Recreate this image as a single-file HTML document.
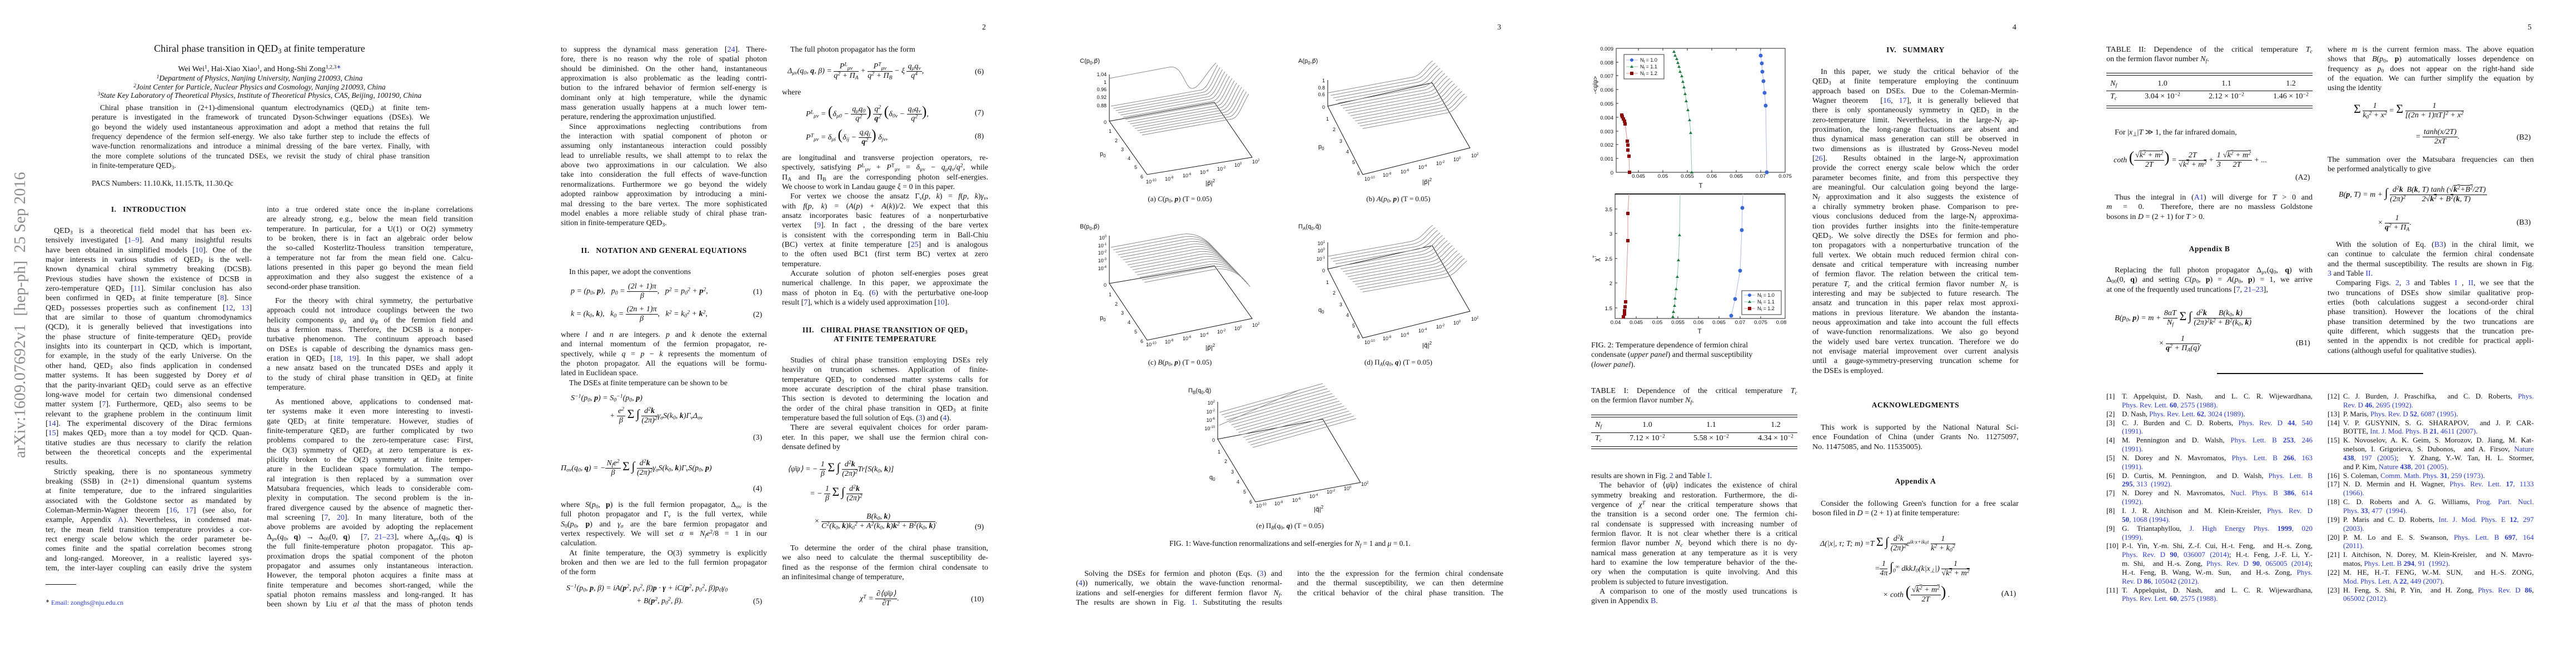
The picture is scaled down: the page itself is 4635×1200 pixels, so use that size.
<!DOCTYPE html>
<html><head><meta charset="utf-8">
<style>
html,body{margin:0;padding:0;background:#fff}
body{width:4635px;height:1200px;position:relative;overflow:hidden;font-family:"Liberation Serif",serif;color:#111}
.pg{position:absolute;top:0;width:927px;height:1200px}
.c{position:absolute;width:371px;font-size:14px}
.c>div{height:17.35px;line-height:17.35px;overflow:hidden;text-align:justify;text-align-last:justify;white-space:normal}
.c>div.e{text-align-last:left}
.i{text-indent:15px}
sub,sup{font-size:70%;line-height:0}
sub{vertical-align:-0.25em}
sup{vertical-align:0.45em}
.a{color:#2a3bc7}
.ab{position:absolute}
.pn{position:absolute;top:42px;left:840px;font-size:14px}
.h{position:absolute;font-size:13.5px;font-weight:bold;text-align:center;letter-spacing:0.5px}
.eq{position:absolute;font-size:14px;white-space:nowrap;font-style:italic}
.eq .n{font-style:normal}
.en{position:absolute;font-size:14px}
.fr{display:inline-block;vertical-align:middle;text-align:center;line-height:16px}
.fr>span{display:block}
.fr>span:first-child{border-bottom:1px solid #111;padding:0 2px}
.cap{position:absolute;font-size:14px;white-space:nowrap}
svg{position:absolute;overflow:visible}
svg text{font-family:"Liberation Sans",sans-serif;fill:#111}
.ln{stroke:#8a8a8a;fill:none;stroke-width:1}
.ax{stroke:#111;fill:none;stroke-width:1}
.rf{position:absolute;width:371px;font-size:13px}
.rf>div{height:15.85px;line-height:15.85px;overflow:hidden;text-align:justify;text-align-last:justify;padding-left:28px;position:relative}
.rf>div.e{text-align-last:left}
.rf b{position:absolute;left:0;font-weight:normal;width:25px;text-align:right}
</style></head><body>

<!-- ================= PAGE 1 ================= -->
<div class="pg" style="left:0">
<div class="ab" style="left:16px;top:276px;height:548px;writing-mode:vertical-rl;transform:rotate(180deg);font-size:29px;color:#8c8c8c;white-space:nowrap;line-height:40px">arXiv:1609.07692v1&nbsp; [hep-ph]&nbsp; 25 Sep 2016</div>
<div class="ab" style="left:0;width:934px;top:77px;text-align:center;font-size:18px">Chiral phase transition in QED<sub>3</sub> at finite temperature</div>
<div class="ab" style="left:0;width:934px;top:117px;text-align:center;font-size:14px">Wei Wei<sup>1</sup>, Hai-Xiao Xiao<sup>1</sup>, and Hong-Shi Zong<sup>1,2,3<span class="a">∗</span></sup></div>
<div class="ab" style="left:0;width:934px;top:133px;text-align:center;font-size:13.5px;font-style:italic;line-height:15.6px"><sup>1</sup>Department of Physics, Nanjing University, Nanjing 210093, China<br><sup>2</sup>Joint Center for Particle, Nuclear Physics and Cosmology, Nanjing 210093, China<br><sup>3</sup>State Key Laboratory of Theoretical Physics, Institute of Theoretical Physics, CAS, Beijing, 100190, China</div>
<div class="c" style="left:165px;top:185px;width:608px;font-size:13.6px">
<div class="i">Chiral phase transition in (2+1)-dimensional quantum electrodynamics (QED<sub>3</sub>) at finite tem-</div>
<div>perature is investigated in the framework of truncated Dyson-Schwinger equations (DSEs). We</div>
<div>go beyond the widely used instantaneous approximation and adopt a method that retains the full</div>
<div>frequency dependence of the fermion self-energy. We also take further step to include the effects of</div>
<div>wave-function renormalizations and introduce a minimal dressing of the bare vertex. Finally, with</div>
<div>the more complete solutions of the truncated DSEs, we revisit the study of chiral phase transition</div>
<div class="e">in finite-temperature QED<sub>3</sub>.</div>
</div>
<div class="ab" style="left:165px;top:322px;font-size:13.6px">PACS Numbers: 11.10.Kk, 11.15.Tk, 11.30.Qc</div>
<div class="h" style="left:82px;width:371px;top:369px">I.&nbsp;&nbsp; INTRODUCTION</div>
<div class="c" style="left:82px;top:407px">
<div class="i">QED<sub>3</sub> is a theoretical field model that has been ex-</div>
<div>tensively investigated [<span class="a">1–9</span>]. And many insightful results</div>
<div>have been obtained in simplified models [<span class="a">10</span>]. One of the</div>
<div>major interests in various studies of QED<sub>3</sub> is the well-</div>
<div>known dynamical chiral symmetry breaking (DCSB).</div>
<div>Previous studies have shown the existence of DCSB in</div>
<div>zero-temperature QED<sub>3</sub> [<span class="a">11</span>]. Similar conclusion has also</div>
<div>been confirmed in QED<sub>3</sub> at finite temperature [<span class="a">8</span>]. Since</div>
<div>QED<sub>3</sub> possesses properties such as confinement [<span class="a">12</span>, <span class="a">13</span>]</div>
<div>that are similar to those of quantum chromodynamics</div>
<div>(QCD), it is generally believed that investigations into</div>
<div>the phase structure of finite-temperature QED<sub>3</sub> provide</div>
<div>insights into its counterpart in QCD, which is important,</div>
<div>for example, in the study of the early Universe. On the</div>
<div>other hand, QED<sub>3</sub> also finds application in condensed</div>
<div>matter systems. It has been suggested by Dorey <i>et al</i></div>
<div>that the parity-invariant QED<sub>3</sub> could serve as an effective</div>
<div>long-wave model for certain two dimensional condensed</div>
<div>matter system [<span class="a">7</span>]. Furthermore, QED<sub>3</sub> also seems to be</div>
<div>relevant to the graphene problem in the continuum limit</div>
<div>[<span class="a">14</span>]. The experimental discovery of the Dirac fermions</div>
<div>[<span class="a">15</span>] makes QED<sub>3</sub> more than a toy model for QCD. Quan-</div>
<div>titative studies are thus necessary to clarify the relation</div>
<div>between the theoretical concepts and the experimental</div>
<div class="e">results.</div>
<div class="i">Strictly speaking, there is no spontaneous symmetry</div>
<div>breaking (SSB) in (2+1) dimensional quantum systems</div>
<div>at finite temperature, due to the infrared singularities</div>
<div>associated with the Goldstone sector as mandated by</div>
<div>Coleman-Mermin-Wagner theorem [<span class="a">16</span>, <span class="a">17</span>] (see also, for</div>
<div>example, Appendix <span class="a">A</span>). Nevertheless, in condensed mat-</div>
<div>ter, the mean field transition temperature provides a cor-</div>
<div>rect energy scale below which the order parameter be-</div>
<div>comes finite and the spatial correlation becomes strong</div>
<div>and long-ranged. Moreover, in a realistic layered sys-</div>
<div>tem, the inter-layer coupling can easily drive the system</div>
</div>
<div class="ab" style="left:82px;top:1051px;width:55px;border-top:1px solid #111"></div>
<div class="ab" style="left:82px;top:1077px;font-size:12px"><sup>∗</sup> <span class="a">Email: zonghs@nju.edu.cn</span></div>
<div class="c" style="left:480px;top:369px">
<div>into a true ordered state once the in-plane correlations</div>
<div>are already strong, e.g., below the mean field transition</div>
<div>temperature. In particular, for a U(1) or O(2) symmetry</div>
<div>to be broken, there is in fact an algebraic order below</div>
<div>the so-called Kosterlitz-Thouless transition temperature,</div>
<div>a temperature not far from the mean field one. Calcu-</div>
<div>lations presented in this paper go beyond the mean field</div>
<div>approximation and they also suggest the existence of a</div>
<div class="e">second-order phase transition.</div>
</div>
<div class="c" style="left:480px;top:533px">
<div class="i">For the theory with chiral symmetry, the perturbative</div>
<div>approach could not introduce couplings between the two</div>
<div>helicity components <i>ψ<sub>L</sub></i> and <i>ψ<sub>R</sub></i> of the fermion field and</div>
<div>thus a fermion mass. Therefore, the DCSB is a nonper-</div>
<div>turbative phenomenon. The continuum approach based</div>
<div>on DSEs is capable of describing the dynamics mass gen-</div>
<div>eration in QED<sub>3</sub> [<span class="a">18</span>, <span class="a">19</span>]. In this paper, we shall adopt</div>
<div>a new ansatz based on the truncated DSEs and apply it</div>
<div>to the study of chiral phase transition in QED<sub>3</sub> at finite</div>
<div class="e">temperature.</div>
</div>
<div class="c" style="left:480px;top:715px">
<div class="i">As mentioned above, applications to condensed mat-</div>
<div>ter systems make it even more interesting to investi-</div>
<div>gate QED<sub>3</sub> at finite temperature. However, studies of</div>
<div>finite-temperature QED<sub>3</sub> are further complicated by two</div>
<div>problems compared to the zero-temperature case: First,</div>
<div>the O(3) symmetry of QED<sub>3</sub> at zero temperature is ex-</div>
<div>plicitly broken to the O(2) symmetry at finite temper-</div>
<div>ature in the Euclidean space formulation. The tempo-</div>
<div>ral integration is then replaced by a summation over</div>
<div>Matsubara frequencies, which leads to considerable com-</div>
<div>plexity in computation. The second problem is the in-</div>
<div>frared divergence caused by the absence of magnetic ther-</div>
<div>mal screening [<span class="a">7</span>, <span class="a">20</span>]. In many literature, both of the</div>
<div>above problems are avoided by adopting the replacement</div>
<div>Δ<sub>μν</sub>(<i>q</i><sub>0</sub>, <b>q</b>) → Δ<sub>00</sub>(0, <b>q</b>) &nbsp;[<span class="a">7</span>, <span class="a">21–23</span>], where Δ<sub>μν</sub>(<i>q</i><sub>0</sub>, <b>q</b>) is</div>
<div>the full finite-temperature photon propagator. This ap-</div>
<div>proximation drops the spatial component of the photon</div>
<div>propagator and assumes only instantaneous interaction.</div>
<div>However, the temporal photon acquires a finite mass at</div>
<div>finite temperature and becomes short-ranged, while the</div>
<div>spatial photon remains massless and long-ranged. It has</div>
<div>been shown by Liu <i>et al</i> that the mass of photon tends</div>
</div>
</div>

<!-- ================= PAGE 2 ================= -->
<div class="pg" style="left:927px">
<div class="pn">2</div>
<div class="c" style="left:82px;top:81px">
<div>to suppress the dynamical mass generation [<span class="a">24</span>]. There-</div>
<div>fore, there is no reason why the role of spatial photon</div>
<div>should be diminished. On the other hand, instantaneous</div>
<div>approximation is also problematic as the leading contri-</div>
<div>bution to the infrared behavior of fermion self-energy is</div>
<div>dominant only at high temperature, while the dynamic</div>
<div>mass generation usually happens at a much lower tem-</div>
<div class="e">perature, rendering the approximation unjustified.</div>
<div class="i">Since approximations neglecting contributions from</div>
<div>the interaction with spatial component of photon or</div>
<div>assuming only instantaneous interaction could possibly</div>
<div>lead to unreliable results, we shall attempt to to relax the</div>
<div>above two approximations in our calculation. We also</div>
<div>take into consideration the full effects of wave-function</div>
<div>renormalizations. Furthermore we go beyond the widely</div>
<div>adopted rainbow approximation by introducing a mini-</div>
<div>mal dressing to the bare vertex. The more sophisticated</div>
<div>model enables a more reliable study of chiral phase tran-</div>
<div class="e">sition in finite-temperature QED<sub>3</sub>.</div>
</div>
<div class="h" style="left:82px;width:371px;top:443px">II.&nbsp;&nbsp; NOTATION AND GENERAL EQUATIONS</div>
<div class="c" style="left:82px;top:481px"><div class="i e">In this paper, we adopt the conventions</div></div>
<div class="eq" style="left:100px;top:508px"><i>p</i> = (<i>p</i><sub>0</sub>, <b>p</b>), &nbsp;&nbsp;<i>p</i><sub>0</sub> = <span class="fr"><span>(2<i>l</i> + 1)<i>π</i></span><span><i>β</i></span></span>, &nbsp;&nbsp;<i>p</i><sup>2</sup> = <i>p</i><sub>0</sub><sup>2</sup> + <b>p</b><sup>2</sup>,</div>
<div class="en" style="left:428px;top:518px">(1)</div>
<div class="eq" style="left:100px;top:549px"><i>k</i> = (<i>k</i><sub>0</sub>, <b>k</b>), &nbsp;&nbsp;<i>k</i><sub>0</sub> = <span class="fr"><span>(2<i>n</i> + 1)<i>π</i></span><span><i>β</i></span></span>, &nbsp;&nbsp;<i>k</i><sup>2</sup> = <i>k</i><sub>0</sub><sup>2</sup> + <b>k</b><sup>2</sup>,</div>
<div class="en" style="left:428px;top:559px">(2)</div>
<div class="c" style="left:82px;top:594px">
<div>where <i>l</i> and <i>n</i> are integers. <i>p</i> and <i>k</i> denote the external</div>
<div>and internal momentum of the fermion propagator, re-</div>
<div>spectively, while <i>q</i> = <i>p</i> − <i>k</i> represents the momentum of</div>
<div>the photon propagator. All the equations will be formu-</div>
<div class="e">lated in Euclidean space.</div>
<div class="i e">The DSEs at finite temperature can be shown to be</div>
</div>
<div class="eq" style="left:100px;top:709px"><i>S</i><sup>−1</sup>(<i>p</i><sub>0</sub>, <b>p</b>) = <i>S</i><sub>0</sub><sup>−1</sup>(<i>p</i><sub>0</sub>, <b>p</b>)</div>
<div class="eq" style="left:170px;top:732px">+ <span class="fr"><span><i>e</i><sup>2</sup></span><span><i>β</i></span></span> <span style="font-size:22px;font-style:normal">Σ</span> <span style="font-size:22px">∫</span> <span class="fr"><span><i>d</i><sup>2</sup><b>k</b></span><span>(2<i>π</i>)<sup>2</sup></span></span><i>γ<sub>σ</sub>S</i>(<i>k</i><sub>0</sub>, <b>k</b>)Γ<sub>ν</sub>Δ<sub>σν</sub></div>
<div class="en" style="left:428px;top:780px">(3)</div>
<div class="eq" style="left:82px;top:826px">Π<sub>σν</sub>(<i>q</i><sub>0</sub>, <b>q</b>) = −<span class="fr"><span><i>N<sub>f</sub>e</i><sup>2</sup></span><span><i>β</i></span></span> <span style="font-size:22px;font-style:normal">Σ</span> <span style="font-size:22px">∫</span> <span class="fr"><span><i>d</i><sup>2</sup><b>k</b></span><span>(2<i>π</i>)<sup>2</sup></span></span><i>γ<sub>σ</sub>S</i>(<i>k</i><sub>0</sub>, <b>k</b>)Γ<sub>ν</sub><i>S</i>(<i>p</i><sub>0</sub>, <b>p</b>)</div>
<div class="en" style="left:428px;top:872px">(4)</div>
<div class="c" style="left:82px;top:900px">
<div>where <i>S</i>(<i>p</i><sub>0</sub>, <b>p</b>) is the full fermion propagator, Δ<sub>σν</sub> is the</div>
<div>full photon propagator and Γ<sub>ν</sub> is the full vertex, while</div>
<div><i>S</i><sub>0</sub>(<i>p</i><sub>0</sub>, <b>p</b>) and <i>γ<sub>σ</sub></i> are the bare fermion propagator and</div>
<div>vertex respectively. We will set <i>α</i> ≡ <i>N<sub>f</sub>e</i><sup>2</sup>/8 = 1 in our</div>
<div class="e">calculation.</div>
<div class="i">At finite temperature, the O(3) symmetry is explicitly</div>
<div>broken and then we are led to the full fermion propagator</div>
<div class="e">of the form</div>
</div>
<div class="eq" style="left:92px;top:1051px"><i>S</i><sup>−1</sup>(<i>p</i><sub>0</sub>, <b>p</b>, <i>β</i>) = <i>iA</i>(<b>p</b><sup>2</sup>, <i>p</i><sub>0</sub><sup>2</sup>, <i>β</i>)<b>p</b> · <b><i>γ</i></b> + <i>iC</i>(<b>p</b><sup>2</sup>, <i>p</i><sub>0</sub><sup>2</sup>, <i>β</i>)<i>p</i><sub>0</sub><i>γ</i><sub>0</sub></div>
<div class="eq" style="left:218px;top:1074px">+ <i>B</i>(<b>p</b><sup>2</sup>, <i>p</i><sub>0</sub><sup>2</sup>, <i>β</i>).</div>
<div class="en" style="left:428px;top:1075px">(5)</div>

<div class="c" style="left:480px;top:81px"><div class="i e">The full photon propagator has the form</div></div>
<div class="eq" style="left:490px;top:112px">Δ<sub>μν</sub>(<i>q</i><sub>0</sub>, <b>q</b>, <i>β</i>) = <span class="fr"><span><i>P</i><sup>L</sup><sub>μν</sub></span><span><i>q</i><sup>2</sup> + Π<sub>A</sub></span></span> + <span class="fr"><span><i>P</i><sup>T</sup><sub>μν</sub></span><span><i>q</i><sup>2</sup> + Π<sub>B</sub></span></span> − <i>ξ</i> <span class="fr"><span><i>q<sub>μ</sub>q<sub>ν</sub></i></span><span><i>q</i><sup>4</sup></span></span>,</div>
<div class="en" style="left:827px;top:122px">(6)</div>
<div class="c" style="left:480px;top:158px"><div class="e">where</div></div>
<div class="eq" style="left:523px;top:186px"><i>P</i><sup>L</sup><sub>μν</sub> = <span style="font-size:26px;font-style:normal">(</span><i>δ</i><sub>μ0</sub> − <span class="fr"><span><i>q<sub>μ</sub>q</i><sub>0</sub></span><span><i>q</i><sup>2</sup></span></span><span style="font-size:26px;font-style:normal">)</span> <span class="fr"><span><i>q</i><sup>2</sup></span><span><b>q</b><sup>2</sup></span></span> <span style="font-size:26px;font-style:normal">(</span><i>δ</i><sub>0ν</sub> − <span class="fr"><span><i>q</i><sub>0</sub><i>q<sub>ν</sub></i></span><span><i>q</i><sup>2</sup></span></span><span style="font-size:26px;font-style:normal">)</span>,</div>
<div class="en" style="left:827px;top:196px">(7)</div>
<div class="eq" style="left:523px;top:228px"><i>P</i><sup>T</sup><sub>μν</sub> = <i>δ</i><sub>μi</sub> <span style="font-size:26px;font-style:normal">(</span><i>δ<sub>ij</sub></i> − <span class="fr"><span><i>q<sub>i</sub>q<sub>j</sub></i></span><span><b>q</b><sup>2</sup></span></span><span style="font-size:26px;font-style:normal">)</span> <i>δ</i><sub>jν</sub>,</div>
<div class="en" style="left:827px;top:238px">(8)</div>
<div class="c" style="left:480px;top:276px">
<div>are longitudinal and transverse projection operators, re-</div>
<div>spectively, satisfying <i>P</i><sup>L</sup><sub>μν</sub> + <i>P</i><sup>T</sup><sub>μν</sub> = <i>δ</i><sub>μν</sub> − <i>q<sub>μ</sub>q<sub>ν</sub></i>/<i>q</i><sup>2</sup>, while</div>
<div>Π<sub>A</sub> and Π<sub>B</sub> are the corresponding photon self-energies.</div>
<div class="e">We choose to work in Landau gauge <i>ξ</i> = 0 in this paper.</div>
<div class="i">For vertex we choose the ansatz Γ<sub>ν</sub>(<i>p</i>, <i>k</i>) = <i>f</i>(<i>p</i>, <i>k</i>)<i>γ<sub>ν</sub></i>,</div>
<div>with <i>f</i>(<i>p</i>, <i>k</i>) = (<i>A</i>(<i>p</i>) + <i>A</i>(<i>k</i>))/2. We expect that this</div>
<div>ansatz incorporates basic features of a nonperturbative</div>
<div>vertex &nbsp;[<span class="a">9</span>]. In fact , the dressing of the bare vertex</div>
<div>is consistent with the corresponding term in Ball-Chiu</div>
<div>(BC) vertex at finite temperature [<span class="a">25</span>] and is analogous</div>
<div>to the often used BC1 (first term BC) vertex at zero</div>
<div class="e">temperature.</div>
<div class="i">Accurate solution of photon self-energies poses great</div>
<div>numerical challenge. In this paper, we approximate the</div>
<div>mass of photon in Eq. (<span class="a">6</span>) with the perturbative one-loop</div>
<div class="e">result [<span class="a">7</span>], which is a widely used approximation [<span class="a">10</span>].</div>
</div>
<div class="h" style="left:480px;width:371px;top:586px;line-height:16px">III.&nbsp;&nbsp; CHIRAL PHASE TRANSITION OF QED<sub>3</sub><br>AT FINITE TEMPERATURE</div>
<div class="c" style="left:480px;top:640px">
<div class="i">Studies of chiral phase transition employing DSEs rely</div>
<div>heavily on truncation schemes. Application of finite-</div>
<div>temperature QED<sub>3</sub> to condensed matter systems calls for</div>
<div>more accurate description of the chiral phase transition.</div>
<div>This section is devoted to determining the location and</div>
<div>the order of the chiral phase transition in QED<sub>3</sub> at finite</div>
<div class="e">temperature based the full solution of Eqs. (<span class="a">3</span>) and (<span class="a">4</span>).</div>
<div class="i">There are several equivalent choices for order param-</div>
<div>eter. In this paper, we shall use the fermion chiral con-</div>
<div class="e">densate defined by</div>
</div>
<div class="eq" style="left:490px;top:828px">⟨<i>ψ̄ψ</i>⟩ = − <span class="fr"><span>1</span><span><i>β</i></span></span> <span style="font-size:22px;font-style:normal">Σ</span> <span style="font-size:22px">∫</span> <span class="fr"><span><i>d</i><sup>2</sup><b>k</b></span><span>(2<i>π</i>)<sup>2</sup></span></span>Tr[<i>S</i>(<i>k</i><sub>0</sub>, <b>k</b>)]</div>
<div class="eq" style="left:530px;top:872px">= − <span class="fr"><span>1</span><span><i>β</i></span></span> <span style="font-size:22px;font-style:normal">Σ</span> <span style="font-size:22px">∫</span> <span class="fr"><span><i>d</i><sup>2</sup><b>k</b></span><span>(2<i>π</i>)<sup>2</sup></span></span></div>
<div class="eq" style="left:538px;top:922px">× <span class="fr"><span><i>B</i>(<i>k</i><sub>0</sub>, <b>k</b>)</span><span><i>C</i><sup>2</sup>(<i>k</i><sub>0</sub>, <b>k</b>)<i>k</i><sub>0</sub><sup>2</sup> + <i>A</i><sup>2</sup>(<i>k</i><sub>0</sub>, <b>k</b>)<b>k</b><sup>2</sup> + <i>B</i><sup>2</sup>(<i>k</i><sub>0</sub>, <b>k</b>)</span></span>.</div>
<div class="en" style="left:827px;top:941px">(9)</div>
<div class="c" style="left:480px;top:978px">
<div class="i">To determine the order of the chiral phase transition,</div>
<div>we also need to calculate the thermal susceptibility de-</div>
<div>fined as the response of the fermion chiral condensate to</div>
<div class="e">an infinitesimal change of temperature,</div>
</div>
<div class="eq" style="left:620px;top:1061px"><i>χ</i><sup>T</sup> = <span class="fr"><span>∂⟨<i>ψ̄ψ</i>⟩</span><span>∂<i>T</i></span></span>.</div>
<div class="en" style="left:820px;top:1071px">(10)</div>
</div>

<!-- ================= PAGE 3 ================= -->
<div class="pg" style="left:1854px">
<div class="pn">3</div>

<!-- (a) C -->
<svg style="left:89px;top:107px" width="340" height="235" font-size="9">
<text x="0" y="6" font-size="11">C(p<tspan font-size="8" dy="3">0</tspan><tspan dy="-3">,p⃗)</tspan></text>
<text x="48" y="30" text-anchor="end">1.04</text><text x="48" y="44" text-anchor="end">1</text><text x="48" y="57" text-anchor="end">0.96</text><text x="48" y="71" text-anchor="end">0.92</text><text x="48" y="86" text-anchor="end">0.88</text><text x="48" y="116" text-anchor="end">0</text>
<line class="ax" x1="53" y1="27" x2="53" y2="111"/>
<polygon class="ax" points="53,111 242,77 310,176 121,207"/>
<path id="ca" class="ln" d="M56,84 L218,55 C230,52 236,30 248,10"/>
<use href="#ca" transform="translate(4.3,4)"/><use href="#ca" transform="translate(8.6,8)"/><use href="#ca" transform="translate(12.9,12)"/><use href="#ca" transform="translate(17.2,16)"/><use href="#ca" transform="translate(21.5,20)"/><use href="#ca" transform="translate(25.8,24)"/><use href="#ca" transform="translate(30.1,28)"/><use href="#ca" transform="translate(34.4,32)"/><use href="#ca" transform="translate(38.7,36)"/><use href="#ca" transform="translate(43,40)"/><use href="#ca" transform="translate(47.3,44)"/><use href="#ca" transform="translate(51.6,48)"/><use href="#ca" transform="translate(55.9,52)"/>
<path class="ln" d="M53,34 L160,14 C185,8 188,50 201,52 C214,54 228,22 245,6"/>
<text x="52" y="132">1</text><text x="63" y="149">2</text><text x="74" y="165">3</text><text x="86" y="181">4</text><text x="98" y="197">5</text><text x="109" y="214">6</text>
<text x="36" y="173" font-size="11">p<tspan font-size="8" dy="3">0</tspan></text>
<text x="119" y="223">10<tspan font-size="6" dy="-4">-10</tspan></text><text x="153" y="218">10<tspan font-size="6" dy="-4">-8</tspan></text><text x="185" y="212">10<tspan font-size="6" dy="-4">-6</tspan></text><text x="216" y="206">10<tspan font-size="6" dy="-4">-4</tspan></text><text x="247" y="200">10<tspan font-size="6" dy="-4">-2</tspan></text><text x="278" y="193">10<tspan font-size="6" dy="-4">0</tspan></text><text x="310" y="187">10<tspan font-size="6" dy="-4">2</tspan></text>
<text x="226" y="226" font-size="11">|p⃗|<tspan font-size="8" dy="-5">2</tspan></text>
</svg>
<div class="cap" style="left:169px;width:200px;top:350px;text-align:center;font-size:13px">(a) <i>C</i>(<i>p</i><sub>0</sub>, <b><i>p</i></b>) (T = 0.05)</div>

<!-- (b) A -->
<svg style="left:482px;top:107px" width="340" height="235" font-size="9">
<text x="0" y="6" font-size="11">A(p<tspan font-size="8" dy="3">0</tspan><tspan dy="-3">,p⃗)</tspan></text>
<text x="48" y="41" text-anchor="end">1</text><text x="48" y="54" text-anchor="end">0.8</text><text x="48" y="66" text-anchor="end">0.6</text><text x="48" y="89" text-anchor="end">0</text>
<line class="ax" x1="53" y1="37" x2="53" y2="84"/>
<polygon class="ax" points="53,84 241,42 309,159 116,207"/>
<path id="cb" class="ln" d="M54,60 L205,32 C222,29 228,12 242,2"/>
<use href="#cb" transform="translate(4.4,4.6)"/><use href="#cb" transform="translate(8.8,9.2)"/><use href="#cb" transform="translate(13.2,13.8)"/><use href="#cb" transform="translate(17.6,18.4)"/><use href="#cb" transform="translate(22,23)"/><use href="#cb" transform="translate(26.4,27.6)"/><use href="#cb" transform="translate(30.8,32.2)"/><use href="#cb" transform="translate(35.2,36.8)"/><use href="#cb" transform="translate(39.6,41.4)"/><use href="#cb" transform="translate(44,46)"/><use href="#cb" transform="translate(48.4,50.6)"/><use href="#cb" transform="translate(52.8,55.2)"/><use href="#cb" transform="translate(57.2,59.8)"/><use href="#cb" transform="translate(61.6,64.4)"/>
<text x="50" y="110">1</text><text x="62" y="129">2</text><text x="74" y="150">3</text><text x="86" y="169">4</text><text x="97" y="188">5</text><text x="106" y="208">6</text>
<text x="36" y="160" font-size="11">p<tspan font-size="8" dy="3">0</tspan></text>
<text x="119" y="218">10<tspan font-size="6" dy="-4">-10</tspan></text><text x="152" y="211">10<tspan font-size="6" dy="-4">-8</tspan></text><text x="184" y="205">10<tspan font-size="6" dy="-4">-6</tspan></text><text x="216" y="197">10<tspan font-size="6" dy="-4">-4</tspan></text><text x="248" y="190">10<tspan font-size="6" dy="-4">-2</tspan></text><text x="279" y="183">10<tspan font-size="6" dy="-4">0</tspan></text><text x="311" y="176">10<tspan font-size="6" dy="-4">2</tspan></text>
<text x="223" y="224" font-size="11">|p⃗|<tspan font-size="8" dy="-5">2</tspan></text>
</svg>
<div class="cap" style="left:562px;width:200px;top:350px;text-align:center;font-size:13px">(b) <i>A</i>(<i>p</i><sub>0</sub>, <b><i>p</i></b>) (T = 0.05)</div>

<!-- (c) B -->
<svg style="left:89px;top:405px" width="340" height="235" font-size="9">
<text x="0" y="6" font-size="11">B(p<tspan font-size="8" dy="3">0</tspan><tspan dy="-3">,p⃗)</tspan></text>
<text x="48" y="26" text-anchor="end">10<tspan font-size="6" dy="-4">0</tspan></text><text x="48" y="40" text-anchor="end">10<tspan font-size="6" dy="-4">-1</tspan></text><text x="48" y="53" text-anchor="end">10<tspan font-size="6" dy="-4">-2</tspan></text><text x="48" y="67" text-anchor="end">10<tspan font-size="6" dy="-4">-3</tspan></text><text x="48" y="81" text-anchor="end">10<tspan font-size="6" dy="-4">-4</tspan></text><text x="48" y="111" text-anchor="end">0</text>
<line class="ax" x1="53" y1="19" x2="53" y2="105"/>
<polygon class="ax" points="53,105 242,73 310,168 121,207"/>
<path id="cc" class="ln" d="M56,40 L180,17 C205,12 228,22 246,48"/>
<use href="#cc" transform="translate(4.3,4.5)"/><use href="#cc" transform="translate(8.6,9)"/><use href="#cc" transform="translate(12.9,13.5)"/><use href="#cc" transform="translate(17.2,18)"/><use href="#cc" transform="translate(21.5,22.5)"/><use href="#cc" transform="translate(25.8,27)"/><use href="#cc" transform="translate(30.1,31.5)"/><use href="#cc" transform="translate(34.4,36)"/><use href="#cc" transform="translate(38.7,40.5)"/><use href="#cc" transform="translate(43,45)"/><use href="#cc" transform="translate(47.3,49.5)"/><use href="#cc" transform="translate(51.6,54)"/><use href="#cc" transform="translate(55.9,58.5)"/><use href="#cc" transform="translate(60.2,63)"/>
<text x="52" y="128">1</text><text x="63" y="145">2</text><text x="74" y="161">3</text><text x="86" y="178">4</text><text x="98" y="195">5</text><text x="109" y="212">6</text>
<text x="36" y="170" font-size="11">p<tspan font-size="8" dy="3">0</tspan></text>
<text x="119" y="218">10<tspan font-size="6" dy="-4">-10</tspan></text><text x="153" y="213">10<tspan font-size="6" dy="-4">-8</tspan></text><text x="185" y="207">10<tspan font-size="6" dy="-4">-6</tspan></text><text x="216" y="201">10<tspan font-size="6" dy="-4">-4</tspan></text><text x="247" y="195">10<tspan font-size="6" dy="-4">-2</tspan></text><text x="278" y="189">10<tspan font-size="6" dy="-4">0</tspan></text><text x="310" y="183">10<tspan font-size="6" dy="-4">2</tspan></text>
<text x="226" y="224" font-size="11">|p⃗|<tspan font-size="8" dy="-5">2</tspan></text>
</svg>
<div class="cap" style="left:169px;width:200px;top:644px;text-align:center;font-size:13px">(c) <i>B</i>(<i>p</i><sub>0</sub>, <b><i>p</i></b>) (T = 0.05)</div>

<!-- (d) Pi_A -->
<svg style="left:482px;top:405px" width="340" height="235" font-size="9">
<text x="0" y="6" font-size="11">Π<tspan font-size="8" dy="3">A</tspan><tspan dy="-3">(q</tspan><tspan font-size="8" dy="3">0</tspan><tspan dy="-3">,q⃗)</tspan></text>
<text x="48" y="36" text-anchor="end">10<tspan font-size="6" dy="-4">1</tspan></text><text x="48" y="49" text-anchor="end">10<tspan font-size="6" dy="-4">0</tspan></text><text x="48" y="64" text-anchor="end">10<tspan font-size="6" dy="-4">-1</tspan></text><text x="48" y="85" text-anchor="end">0</text>
<line class="ax" x1="53" y1="31" x2="53" y2="79"/>
<polygon class="ax" points="53,79 241,37 309,155 116,203"/>
<path id="cd" class="ln" d="M54,56 L200,30 C222,26 228,10 242,0"/>
<use href="#cd" transform="translate(4.4,4.6)"/><use href="#cd" transform="translate(8.8,9.2)"/><use href="#cd" transform="translate(13.2,13.8)"/><use href="#cd" transform="translate(17.6,18.4)"/><use href="#cd" transform="translate(22,23)"/><use href="#cd" transform="translate(26.4,27.6)"/><use href="#cd" transform="translate(30.8,32.2)"/><use href="#cd" transform="translate(35.2,36.8)"/><use href="#cd" transform="translate(39.6,41.4)"/><use href="#cd" transform="translate(44,46)"/><use href="#cd" transform="translate(48.4,50.6)"/><use href="#cd" transform="translate(52.8,55.2)"/><use href="#cd" transform="translate(57.2,59.8)"/><use href="#cd" transform="translate(61.6,64.4)"/>
<text x="50" y="106">1</text><text x="62" y="125">2</text><text x="74" y="146">3</text><text x="86" y="165">4</text><text x="97" y="184">5</text><text x="106" y="204">6</text>
<text x="36" y="156" font-size="11">q<tspan font-size="8" dy="3">0</tspan></text>
<text x="119" y="214">10<tspan font-size="6" dy="-4">-10</tspan></text><text x="152" y="207">10<tspan font-size="6" dy="-4">-8</tspan></text><text x="184" y="201">10<tspan font-size="6" dy="-4">-6</tspan></text><text x="216" y="193">10<tspan font-size="6" dy="-4">-4</tspan></text><text x="248" y="186">10<tspan font-size="6" dy="-4">-2</tspan></text><text x="279" y="179">10<tspan font-size="6" dy="-4">0</tspan></text><text x="311" y="172">10<tspan font-size="6" dy="-4">2</tspan></text>
<text x="223" y="220" font-size="11">|q⃗|<tspan font-size="8" dy="-5">2</tspan></text>
</svg>
<div class="cap" style="left:562px;width:200px;top:644px;text-align:center;font-size:13px">(d) Π<sub><i>A</i></sub>(<i>q</i><sub>0</sub>, <b><i>q</i></b>) (T = 0.05)</div>

<!-- (e) Pi_B -->
<svg style="left:284px;top:700px" width="340" height="235" font-size="9">
<text x="0" y="6" font-size="11">Π<tspan font-size="8" dy="3">B</tspan><tspan dy="-3">(q</tspan><tspan font-size="8" dy="3">0</tspan><tspan dy="-3">,q⃗)</tspan></text>
<text x="48" y="28" text-anchor="end">10<tspan font-size="6" dy="-4">2</tspan></text><text x="48" y="44" text-anchor="end">10<tspan font-size="6" dy="-4">-2</tspan></text><text x="48" y="59" text-anchor="end">10<tspan font-size="6" dy="-4">-6</tspan></text><text x="48" y="74" text-anchor="end">10<tspan font-size="6" dy="-4">-10</tspan></text><text x="48" y="95" text-anchor="end">0</text>
<line class="ax" x1="53" y1="23" x2="53" y2="90"/>
<polygon class="ax" points="53,90 242,54 310,168 121,203"/>
<path id="ce" class="ln" d="M56,42 L242,-10"/>
<use href="#ce" transform="translate(4.3,4.5)"/><use href="#ce" transform="translate(8.6,9)"/><use href="#ce" transform="translate(12.9,13.5)"/><use href="#ce" transform="translate(17.2,18)"/><use href="#ce" transform="translate(21.5,22.5)"/><use href="#ce" transform="translate(25.8,27)"/><use href="#ce" transform="translate(30.1,31.5)"/><use href="#ce" transform="translate(34.4,36)"/><use href="#ce" transform="translate(38.7,40.5)"/><use href="#ce" transform="translate(43,45)"/><use href="#ce" transform="translate(47.3,49.5)"/><use href="#ce" transform="translate(51.6,54)"/><use href="#ce" transform="translate(55.9,58.5)"/><use href="#ce" transform="translate(60.2,63)"/>
<path class="ln" d="M56,65 L201,1"/>
<text x="53" y="116">1</text><text x="65" y="133">2</text><text x="77" y="152">3</text><text x="87" y="170">4</text><text x="99" y="188">5</text><text x="110" y="206">6</text>
<text x="38" y="162" font-size="11">q<tspan font-size="8" dy="3">0</tspan></text>
<text x="122" y="213">10<tspan font-size="6" dy="-4">-10</tspan></text><text x="155" y="209">10<tspan font-size="6" dy="-4">-8</tspan></text><text x="187" y="203">10<tspan font-size="6" dy="-4">-6</tspan></text><text x="218" y="196">10<tspan font-size="6" dy="-4">-4</tspan></text><text x="249" y="188">10<tspan font-size="6" dy="-4">-2</tspan></text><text x="280" y="182">10<tspan font-size="6" dy="-4">0</tspan></text><text x="311" y="174">10<tspan font-size="6" dy="-4">2</tspan></text>
<text x="226" y="220" font-size="11">|q⃗|<tspan font-size="8" dy="-5">2</tspan></text>
</svg>
<div class="cap" style="left:367px;width:200px;top:938px;text-align:center;font-size:13px">(e) Π<sub><i>B</i></sub>(<i>q</i><sub>0</sub>, <b><i>q</i></b>) (T = 0.05)</div>
<div class="cap" style="left:0;width:934px;top:970px;text-align:center;font-size:13.5px">FIG. 1: Wave-function renormalizations and self-energies for <i>N<sub>f</sub></i> = 1 and <i>μ</i> = 0.1.</div>

<div class="c" style="left:82px;top:1024px">
<div class="i">Solving the DSEs for fermion and photon (Eqs. (<span class="a">3</span>) and</div>
<div>(<span class="a">4</span>)) numerically, we obtain the wave-function renormal-</div>
<div>izations and self-energies for different fermion flavor <i>N<sub>f</sub></i>.</div>
<div>The results are shown in Fig. <span class="a">1</span>. Substituting the results</div>
</div>
<div class="c" style="left:480px;top:1024px">
<div>into the the expression for the fermion chiral condensate</div>
<div>and the thermal susceptibility, we can then determine</div>
<div>the critical behavior of the chiral phase transition. The</div>
</div>
</div>

<!-- ================= PAGE 4 ================= -->
<div class="pg" style="left:2781px">
<div class="pn">4</div>
<svg style="left:0;top:0" width="460" height="610" font-size="9.5">
<!-- upper panel -->
<rect x="127" y="87" width="304" height="223" fill="none" stroke="#222" stroke-width="1"/>
<g stroke="#222" stroke-width="1">
<line x1="127" y1="112" x2="131" y2="112"/><line x1="127" y1="136" x2="131" y2="136"/><line x1="127" y1="161" x2="131" y2="161"/><line x1="127" y1="186" x2="131" y2="186"/><line x1="127" y1="211" x2="131" y2="211"/><line x1="127" y1="236" x2="131" y2="236"/><line x1="127" y1="260" x2="131" y2="260"/><line x1="127" y1="285" x2="131" y2="285"/>
<line x1="167" y1="310" x2="167" y2="306"/><line x1="211" y1="310" x2="211" y2="306"/><line x1="255" y1="310" x2="255" y2="306"/><line x1="299" y1="310" x2="299" y2="306"/><line x1="343" y1="310" x2="343" y2="306"/><line x1="387" y1="310" x2="387" y2="306"/>
<line x1="167" y1="87" x2="167" y2="91"/><line x1="211" y1="87" x2="211" y2="91"/><line x1="255" y1="87" x2="255" y2="91"/><line x1="299" y1="87" x2="299" y2="91"/><line x1="343" y1="87" x2="343" y2="91"/><line x1="387" y1="87" x2="387" y2="91"/>
</g>
<g text-anchor="end"><text x="122" y="91">0.009</text><text x="122" y="116">0.008</text><text x="122" y="140">0.007</text><text x="122" y="165">0.006</text><text x="122" y="190">0.005</text><text x="122" y="215">0.004</text><text x="122" y="240">0.003</text><text x="122" y="264">0.002</text><text x="122" y="289">0.001</text><text x="122" y="314">0</text></g>
<g text-anchor="middle"><text x="167" y="320">0.045</text><text x="211" y="320">0.05</text><text x="255" y="320">0.055</text><text x="299" y="320">0.06</text><text x="343" y="320">0.065</text><text x="387" y="320">0.07</text><text x="431" y="320">0.075</text></g>
<text x="279" y="338" font-size="12" text-anchor="middle">T</text>
<text transform="translate(93,153) rotate(-90)" text-anchor="middle" font-size="11">-&lt;ψ̄ψ&gt;</text>
<polyline points="386,87 387,100 389,114 390,129 392,146 394,167 396,190 398,310" fill="none" stroke="#a8bce8" stroke-width="1"/>
<polyline points="231,93 233,100 236,106 238,113 240,120 242,129 245,137 247,147 249,157 251,169 253,182 256,198 259,216 261,239 263,310" fill="none" stroke="#8cc4a8" stroke-width="1"/>
<polyline points="137,207 138,210 140,214 142,218 143,223 147,254 148,261 148,270 150,281 151,310" fill="none" stroke="#d89090" stroke-width="1"/>
<g fill="#3b66d6"><circle cx="387" cy="100" r="3.5"/><circle cx="389" cy="114" r="3.5"/><circle cx="390" cy="129" r="3.5"/><circle cx="392" cy="146" r="3.5"/><circle cx="394" cy="167" r="3.5"/><circle cx="396" cy="190" r="3.5"/><circle cx="398" cy="310" r="3.5"/></g>
<g fill="#1e7a3e">
<path d="M231,90 l3,5 h-6z"/><path d="M233,97 l3,5 h-6z"/><path d="M236,103 l3,5 h-6z"/><path d="M238,110 l3,5 h-6z"/><path d="M240,117 l3,5 h-6z"/><path d="M242,126 l3,5 h-6z"/><path d="M245,134 l3,5 h-6z"/><path d="M247,144 l3,5 h-6z"/><path d="M249,154 l3,5 h-6z"/><path d="M251,166 l3,5 h-6z"/><path d="M253,179 l3,5 h-6z"/><path d="M256,195 l3,5 h-6z"/><path d="M259,213 l3,5 h-6z"/><path d="M261,236 l3,5 h-6z"/><path d="M263,307 l3,5 h-6z"/></g>
<g fill="#8b0a0a"><rect x="134" y="204" width="6" height="6"/><rect x="135" y="207" width="6" height="6"/><rect x="137" y="211" width="6" height="6"/><rect x="139" y="215" width="6" height="6"/><rect x="140" y="220" width="6" height="6"/><rect x="144" y="251" width="6" height="6"/><rect x="145" y="258" width="6" height="6"/><rect x="145" y="267" width="6" height="6"/><rect x="147" y="278" width="6" height="6"/><rect x="148" y="307" width="6" height="6"/></g>
<rect x="141" y="98" width="72" height="44" fill="#fff" stroke="#333"/>
<line x1="145" y1="108" x2="166" y2="108" stroke="#a8bce8"/><circle cx="155" cy="108" r="3" fill="#3b66d6"/><text x="170" y="111" font-size="9">N<tspan font-size="6" dy="2">f</tspan><tspan dy="-2"> = 1.0</tspan></text>
<line x1="145" y1="120" x2="166" y2="120" stroke="#8cc4a8"/><path d="M155,117 l3,5 h-6z" fill="#1e7a3e"/><text x="170" y="123" font-size="9">N<tspan font-size="6" dy="2">f</tspan><tspan dy="-2"> = 1.1</tspan></text>
<line x1="145" y1="132" x2="166" y2="132" stroke="#d89090"/><rect x="152" y="129" width="6" height="6" fill="#8b0a0a"/><text x="170" y="135" font-size="9">N<tspan font-size="6" dy="2">f</tspan><tspan dy="-2"> = 1.2</tspan></text>

<!-- lower panel -->
<rect x="125" y="349" width="306" height="224" fill="none" stroke="#222" stroke-width="1"/>
<line x1="125" y1="349" x2="431" y2="349" stroke="#222" stroke-width="2"/>
<g stroke="#222"><line x1="125" y1="376" x2="129" y2="376"/><line x1="125" y1="420" x2="129" y2="420"/><line x1="125" y1="465" x2="129" y2="465"/><line x1="125" y1="509" x2="129" y2="509"/><line x1="125" y1="554" x2="129" y2="554"/>
<line x1="163" y1="573" x2="163" y2="569"/><line x1="201" y1="573" x2="201" y2="569"/><line x1="238" y1="573" x2="238" y2="569"/><line x1="275" y1="573" x2="275" y2="569"/><line x1="312" y1="573" x2="312" y2="569"/><line x1="350" y1="573" x2="350" y2="569"/><line x1="387" y1="573" x2="387" y2="569"/></g>
<g text-anchor="end"><text x="120" y="380">3.5</text><text x="120" y="424">3</text><text x="120" y="469">2.5</text><text x="120" y="513">2</text><text x="120" y="558">1.5</text></g>
<g text-anchor="middle"><text x="126" y="583">0.04</text><text x="163" y="583">0.045</text><text x="201" y="583">0.05</text><text x="238" y="583">0.055</text><text x="275" y="583">0.06</text><text x="312" y="583">0.065</text><text x="350" y="583">0.07</text><text x="387" y="583">0.075</text><text x="424" y="583">0.08</text></g>
<text x="277" y="600" font-size="12" text-anchor="middle">T</text>
<text transform="translate(96,465) rotate(-90)" text-anchor="middle" font-size="12">χ<tspan font-size="8" dy="-5">T</tspan></text>
<polyline points="138,573 140,573 142,565 142,559 143,552 144,543 148,433 148,384 150,349" fill="none" stroke="#d89090"/>
<polyline points="227,573 229,571 230,561 232,550 233,537 235,520 237,498 239,468 241,423 242,349" fill="none" stroke="#8cc4a8"/>
<polyline points="333,573 334,568 341,538 350,487 353,414 354,374 355,349" fill="none" stroke="#a8bce8"/>
<g fill="#8b0a0a"><rect x="137" y="567" width="6" height="6"/><rect x="139" y="562" width="6" height="6"/><rect x="139" y="556" width="6" height="6"/><rect x="140" y="549" width="6" height="6"/><rect x="141" y="540" width="6" height="6"/><rect x="145" y="430" width="6" height="6"/><rect x="145" y="381" width="6" height="6"/></g>
<g fill="#1e7a3e"><path d="M229,567 l3,5 h-6z"/><path d="M230,558 l3,5 h-6z"/><path d="M232,547 l3,5 h-6z"/><path d="M233,534 l3,5 h-6z"/><path d="M235,517 l3,5 h-6z"/><path d="M237,495 l3,5 h-6z"/><path d="M239,465 l3,5 h-6z"/><path d="M241,420 l3,5 h-6z"/></g>
<g fill="#3b66d6"><circle cx="334" cy="568" r="3.5"/><circle cx="341" cy="538" r="3.5"/><circle cx="350" cy="487" r="3.5"/><circle cx="353" cy="414" r="3.5"/><circle cx="354" cy="374" r="3.5"/></g>
<rect x="353" y="523" width="71" height="43" fill="#fff" stroke="#333"/>
<line x1="357" y1="531" x2="377" y2="531" stroke="#a8bce8"/><circle cx="367" cy="531" r="3" fill="#3b66d6"/><text x="381" y="534" font-size="9">N<tspan font-size="6" dy="2">f</tspan><tspan dy="-2"> = 1.0</tspan></text>
<line x1="357" y1="543" x2="377" y2="543" stroke="#8cc4a8"/><path d="M367,540 l3,5 h-6z" fill="#1e7a3e"/><text x="381" y="546" font-size="9">N<tspan font-size="6" dy="2">f</tspan><tspan dy="-2"> = 1.1</tspan></text>
<line x1="357" y1="555" x2="377" y2="555" stroke="#d89090"/><rect x="364" y="552" width="6" height="6" fill="#8b0a0a"/><text x="381" y="558" font-size="9">N<tspan font-size="6" dy="2">f</tspan><tspan dy="-2"> = 1.2</tspan></text>
</svg>
<div class="c" style="left:82px;top:613px">
<div class="e">FIG. 2: Temperature dependence of fermion chiral</div>
<div class="e">condensate (<i>upper panel</i>) and thermal susceptibility</div>
<div class="e">(<i>lower panel</i>).</div>
</div>
<div class="c" style="left:82px;top:695px">
<div>TABLE I: Dependence of the critical temperature <i>T<sub>c</sub></i></div>
<div class="e">on the fermion flavor number <i>N<sub>f</sub></i>.</div>
</div>
<div class="ab" style="left:82px;top:746px;width:371px;height:3px;border-top:1px solid #111;border-bottom:1px solid #111"></div>
<div class="ab" style="left:82px;top:778px;width:371px;border-top:1px solid #111"></div>
<div class="ab" style="left:82px;top:803px;width:371px;height:3px;border-top:1px solid #111;border-bottom:1px solid #111"></div>
<div class="ab" style="left:89px;top:757px;font-size:14px"><i>N<sub>f</sub></i></div>
<div class="ab" style="left:153px;width:60px;top:757px;font-size:14px;text-align:center">1.0</div>
<div class="ab" style="left:268px;width:60px;top:757px;font-size:14px;text-align:center">1.1</div>
<div class="ab" style="left:384px;width:60px;top:757px;font-size:14px;text-align:center">1.2</div>
<div class="ab" style="left:89px;top:781px;font-size:14px"><i>T<sub>c</sub></i></div>
<div class="ab" style="left:133px;width:100px;top:781px;font-size:14px;text-align:center">7.12 × 10<sup>−2</sup></div>
<div class="ab" style="left:248px;width:100px;top:781px;font-size:14px;text-align:center">5.58 × 10<sup>−2</sup></div>
<div class="ab" style="left:364px;width:100px;top:781px;font-size:14px;text-align:center">4.34 × 10<sup>−2</sup></div>
<div class="c" style="left:82px;top:848px">
<div class="e">results are shown in Fig. <span class="a">2</span> and Table <span class="a">I</span>.</div>
<div class="i">The behavior of ⟨<i>ψ̄ψ</i>⟩ indicates the existence of chiral</div>
<div>symmetry breaking and restoration. Furthermore, the di-</div>
<div>vergence of <i>χ<sup>T</sup></i> near the critical temperature shows that</div>
<div>the transition is a second order one. The fermion chi-</div>
<div>ral condensate is suppressed with increasing number of</div>
<div>fermion flavor. It is not clear whether there is a critical</div>
<div>fermion flavor number <i>N<sub>c</sub></i> beyond which there is no dy-</div>
<div>namical mass generation at any temperature as it is very</div>
<div>hard to examine the low temperature behavior of the the-</div>
<div>ory when the computation is quite involving. And this</div>
<div class="e">problem is subjected to future investigation.</div>
<div class="i">A comparison to one of the mostly used truncations is</div>
<div class="e">given in Appendix <span class="a">B</span>.</div>
</div>
<div class="h" style="left:480px;width:371px;top:82px">IV.&nbsp;&nbsp; SUMMARY</div>
<div class="c" style="left:480px;top:121px">
<div class="i">In this paper, we study the critical behavior of the</div>
<div>QED<sub>3</sub> at finite temperature employing the continuum</div>
<div>approach based on DSEs. Due to the Coleman-Mermin-</div>
<div>Wagner theorem &nbsp;[<span class="a">16</span>, <span class="a">17</span>], it is generally believed that</div>
<div>there is only spontaneously symmetry in QED<sub>3</sub> in the</div>
<div>zero-temperature limit. Nevertheless, in the large-N<sub><i>f</i></sub> ap-</div>
<div>proximation, the long-range fluctuations are absent and</div>
<div>thus dynamical mass generation can still be observed in</div>
<div>two dimensions as is illustrated by Gross-Neveu model</div>
<div>[<span class="a">26</span>]. &nbsp;Results obtained in the large-N<sub><i>f</i></sub> approximation</div>
<div>provide the correct energy scale below which the order</div>
<div>parameter becomes finite, and from this perspective they</div>
<div>are meaningful. Our calculation going beyond the large-</div>
<div>N<sub><i>f</i></sub> approximation and it also suggests the existence of</div>
<div>a chirally symmetry broken phase. Comparison to pre-</div>
<div>vious conclusions deduced from the large-N<sub><i>f</i></sub> approxima-</div>
<div>tion provides further insights into the finite-temperature</div>
<div>QED<sub>3</sub>. We solve directly the DSEs for fermion and pho-</div>
<div>ton propagators with a nonperturbative truncation of the</div>
<div>full vertex. We obtain much reduced fermion chiral con-</div>
<div>densate and critical temperature with increasing number</div>
<div>of fermion flavor. The relation between the critical tem-</div>
<div>perature <i>T<sub>c</sub></i> and the critical fermion flavor number <i>N<sub>c</sub></i> is</div>
<div>interesting and may be subjected to future research. The</div>
<div>ansatz and truncation in this paper relax most approxi-</div>
<div>mations in previous literature. We abandon the instanta-</div>
<div>neous approximation and take into account the full effects</div>
<div>of wave-function renormalizations. We also go beyond</div>
<div>the widely used bare vertex truncation. Therefore we do</div>
<div>not envisage material improvement over current analysis</div>
<div>until a gauge-symmetry-preserving truncation scheme for</div>
<div class="e">the DSEs is employed.</div>
</div>
<div class="h" style="left:480px;width:371px;top:721px">ACKNOWLEDGMENTS</div>
<div class="c" style="left:480px;top:761px">
<div class="i">This work is supported by the National Natural Sci-</div>
<div>ence Foundation of China (under Grants No. 11275097,</div>
<div class="e">No. 11475085, and No. 11535005).</div>
</div>
<div class="h" style="left:480px;width:371px;top:858px">Appendix A</div>
<div class="c" style="left:480px;top:898px">
<div class="i">Consider the following Green's function for a free scalar</div>
<div class="e">boson filed in <i>D</i> = (2 + 1) at finite temperature:</div>
</div>
<div class="eq" style="left:494px;top:962px">Δ(|<i>x</i>|, <i>τ</i>; <i>T</i>; <i>m</i>) =<i>T</i> <span style="font-size:22px;font-style:normal">Σ</span> <span style="font-size:22px">∫</span> <span class="fr"><span><i>d</i><sup>2</sup><i>k</i></span><span>(2<i>π</i>)<sup>2</sup></span></span><i>e</i><sup><i>ik·x</i>+<i>ik</i><sub>0</sub><i>τ</i></sup> <span class="fr"><span>1</span><span><i>k</i><sup>2</sup> + <i>k</i><sub>0</sub><sup>2</sup></span></span></div>
<div class="eq" style="left:592px;top:1007px">=<span class="fr"><span>1</span><span>4<i>π</i></span></span> <span style="font-size:22px">∫</span><sub>0</sub><sup>∞</sup> <i>dkkJ</i><sub>0</sub>(<i>k</i>|<i>x</i><sub>⊥</sub>|) <span class="fr"><span>1</span><span>√<span style="text-decoration:overline"><i>k</i><sup>2</sup> + <i>m</i><sup>2</sup></span></span></span></div>
<div class="eq" style="left:607px;top:1050px">× coth <span style="font-size:28px;font-style:normal">(</span><span class="fr"><span>√<span style="text-decoration:overline"><i>k</i><sup>2</sup> + <i>m</i><sup>2</sup></span></span><span>2<i>T</i></span></span><span style="font-size:28px;font-style:normal">)</span> .</div>
<div class="en" style="left:820px;top:1061px">(A1)</div>
</div>

<!-- ================= PAGE 5 ================= -->
<div class="pg" style="left:3708px">
<div class="pn">5</div>
<div class="c" style="left:82px;top:81px">
<div>TABLE II: Dependence of the critical temperature <i>T<sub>c</sub></i></div>
<div class="e">on the fermion flavor number <i>N<sub>f</sub></i>.</div>
</div>
<div class="ab" style="left:82px;top:131px;width:371px;height:3px;border-top:1px solid #111;border-bottom:1px solid #111"></div>
<div class="ab" style="left:82px;top:163px;width:371px;border-top:1px solid #111"></div>
<div class="ab" style="left:82px;top:190px;width:371px;height:3px;border-top:1px solid #111;border-bottom:1px solid #111"></div>
<div class="ab" style="left:89px;top:143px;font-size:14px"><i>N<sub>f</sub></i></div>
<div class="ab" style="left:153px;width:60px;top:143px;font-size:14px;text-align:center">1.0</div>
<div class="ab" style="left:268px;width:60px;top:143px;font-size:14px;text-align:center">1.1</div>
<div class="ab" style="left:384px;width:60px;top:143px;font-size:14px;text-align:center">1.2</div>
<div class="ab" style="left:89px;top:166px;font-size:14px"><i>T<sub>c</sub></i></div>
<div class="ab" style="left:133px;width:100px;top:166px;font-size:14px;text-align:center">3.04 × 10<sup>−2</sup></div>
<div class="ab" style="left:248px;width:100px;top:166px;font-size:14px;text-align:center">2.12 × 10<sup>−2</sup></div>
<div class="ab" style="left:364px;width:100px;top:166px;font-size:14px;text-align:center">1.46 × 10<sup>−2</sup></div>
<div class="c" style="left:82px;top:230px"><div class="i e">For |<i>x</i><sub>⊥</sub>|<i>T</i> ≫ 1, the far infrared domain,</div></div>
<div class="eq" style="left:95px;top:268px">coth <span style="font-size:28px;font-style:normal">(</span><span class="fr"><span>√<span style="text-decoration:overline"><i>k</i><sup>2</sup> + <i>m</i><sup>2</sup></span></span><span>2<i>T</i></span></span><span style="font-size:28px;font-style:normal">)</span> = <span class="fr"><span>2<i>T</i></span><span>√<span style="text-decoration:overline"><i>k</i><sup>2</sup> + <i>m</i><sup>2</sup></span></span></span> + <span class="fr"><span>1</span><span>3</span></span><span class="fr"><span>√<span style="text-decoration:overline"><i>k</i><sup>2</sup> + <i>m</i><sup>2</sup></span></span><span>2<i>T</i></span></span> + ...</div>
<div class="en" style="left:422px;top:312px">(A2)</div>
<div class="c" style="left:82px;top:347px">
<div class="i">Thus the integral in (<span class="a">A1</span>) will diverge for <i>T</i> &gt; 0 and</div>
<div><i>m</i> &nbsp;= &nbsp;0. &nbsp;&nbsp;Therefore, there are no massless Goldstone</div>
<div class="e">bosons in <i>D</i> = (2 + 1) for <i>T</i> &gt; 0.</div>
</div>
<div class="h" style="left:82px;width:371px;top:440px">Appendix B</div>
<div class="c" style="left:82px;top:478px">
<div class="i">Replacing the full photon propagator Δ<sub>μν</sub>(<i>q</i><sub>0</sub>, <b>q</b>) with</div>
<div>Δ<sub>00</sub>(0, <b>q</b>) and setting <i>C</i>(<i>p</i><sub>0</sub>, <b>p</b>) = <i>A</i>(<i>p</i><sub>0</sub>, <b>p</b>) = 1, we arrive</div>
<div class="e">at one of the frequently used truncations [<span class="a">7</span>, <span class="a">21–23</span>],</div>
</div>
<div class="eq" style="left:97px;top:556px"><i>B</i>(<i>p</i><sub>0</sub>, <b>p</b>) = <i>m</i> + <span class="fr"><span>8<i>αT</i></span><span><i>N<sub>f</sub></i></span></span> <span style="font-size:22px;font-style:normal">Σ</span> <span style="font-size:22px">∫</span> <span class="fr"><span><i>d</i><sup>2</sup><b>k</b></span><span>(2<i>π</i>)<sup>2</sup></span></span><span class="fr"><span><i>B</i>(<i>k</i><sub>0</sub>, <b>k</b>)</span><span><i>k</i><sup>2</sup> + <i>B</i><sup>2</sup>(<i>k</i><sub>0</sub>, <b>k</b>)</span></span></div>
<div class="eq" style="left:176px;top:602px">× <span class="fr"><span>1</span><span><b>q</b><sup>2</sup> + Π<sub>A</sub>(<i>q</i>)</span></span>,</div>
<div class="en" style="left:423px;top:610px">(B1)</div>

<div class="c" style="left:480px;top:81px">
<div>where <i>m</i> is the current fermion mass. The above equation</div>
<div>shows that <i>B</i>(<i>p</i><sub>0</sub>, <b>p</b>) automatically losses dependence on</div>
<div>frequency as <i>p</i><sub>0</sub> does not appear on the right-hand side</div>
<div>of the equation. We can further simplify the equation by</div>
<div class="e">using the identity</div>
</div>
<div class="eq" style="left:527px;top:183px"><span style="font-size:22px;font-style:normal">Σ</span> <span class="fr"><span>1</span><span><i>k</i><sub>0</sub><sup>2</sup> + <i>x</i><sup>2</sup></span></span> = <span style="font-size:22px;font-style:normal">Σ</span> <span class="fr"><span>1</span><span>[(2<i>n</i> + 1)<i>πT</i>]<sup>2</sup> + <i>x</i><sup>2</sup></span></span></div>
<div class="eq" style="left:638px;top:230px">= <span class="fr"><span>tanh(<i>x</i>/2<i>T</i>)</span><span>2<i>xT</i></span></span>.</div>
<div class="en" style="left:820px;top:240px">(B2)</div>
<div class="c" style="left:480px;top:279px">
<div>The summation over the Matsubara frequencies can then</div>
<div class="e">be performed analytically to give</div>
</div>
<div class="eq" style="left:500px;top:334px"><i>B</i>(<b>p</b>, <i>T</i>) = <i>m</i> + <span style="font-size:22px">∫</span> <span class="fr"><span><i>d</i><sup>2</sup><b>k</b></span><span>(2<i>π</i>)<sup>2</sup></span></span><span class="fr"><span><i>B</i>(<b>k</b>, <i>T</i>) tanh (√<span style="text-decoration:overline"><b>k</b><sup>2</sup>+<i>B</i><sup>2</sup></span>/2<i>T</i>)</span><span>2√<span style="text-decoration:overline"><b>k</b><sup>2</sup> + <i>B</i><sup>2</sup>(<b>k</b>, <i>T</i>)</span></span></span></div>
<div class="eq" style="left:570px;top:385px">× <span class="fr"><span>1</span><span><b>q</b><sup>2</sup> + Π<sub>A</sub></span></span>.</div>
<div class="en" style="left:820px;top:393px">(B3)</div>
<div class="c" style="left:480px;top:432px">
<div class="i">With the solution of Eq. (<span class="a">B3</span>) in the chiral limit, we</div>
<div>can continue to calculate the fermion chiral condensate</div>
<div>and the thermal susceptibility. The results are shown in Fig.</div>
<div class="e"><span class="a">3</span> and Table <span class="a">II</span>.</div>
<div class="i">Comparing Figs. <span class="a">2</span>, <span class="a">3</span> and Tables <span class="a">I</span> , <span class="a">II</span>, we see that the</div>
<div>two truncations of DSEs show similar qualitative prop-</div>
<div>erties (both calculations suggest a second-order chiral</div>
<div>phase transition). However the locations of the chiral</div>
<div>phase transition determined by the two truncations are</div>
<div>quite different, which suggests that the truncation pre-</div>
<div>sented in the appendix is not credible for practical appli-</div>
<div class="e">cations (although useful for qualitative studies).</div>
</div>
<div class="ab" style="left:281px;top:671px;width:371px;border-top:2px solid #111"></div>

<div class="rf" style="left:82px;top:705px">
<div><b>[1]</b>T. Appelquist, D. Nash, &nbsp;and L. C. R. Wijewardhana,</div>
<div class="e a">Phys. Rev. Lett. <strong>60</strong>, 2575 (1988).</div>
<div class="e"><b>[2]</b>D. Nash, <span class="a">Phys. Rev. Lett. <strong>62</strong>, 3024 (1989)</span>.</div>
<div><b>[3]</b>C. J. Burden and C. D. Roberts, <span class="a">Phys. Rev. D <strong>44</strong>, 540</span></div>
<div class="e a">(1991).</div>
<div><b>[4]</b>M. Pennington and D. Walsh, <span class="a">Phys. Lett. B <strong>253</strong>, 246</span></div>
<div class="e a">(1991).</div>
<div><b>[5]</b>N. Dorey and N. Mavromatos, <span class="a">Phys. Lett. B <strong>266</strong>, 163</span></div>
<div class="e a">(1991).</div>
<div><b>[6]</b>D. Curtis, M. Pennington, &nbsp;and D. Walsh, <span class="a">Phys. Lett. B</span></div>
<div class="e a"><strong>295</strong>, 313 &nbsp;(1992).</div>
<div><b>[7]</b>N. Dorey and N. Mavromatos, <span class="a">Nucl. Phys. B <strong>386</strong>, 614</span></div>
<div class="e a">(1992).</div>
<div><b>[8]</b>I. J. R. Aitchison and M. Klein-Kreisler, <span class="a">Phys. Rev. D</span></div>
<div class="e a"><strong>50</strong>, 1068 (1994).</div>
<div><b>[9]</b>G. Triantaphyllou, <span class="a">J. High Energy Phys. <strong>1999</strong>, 020</span></div>
<div class="e a">(1999).</div>
<div><b>[10]</b>P.-l. Yin, Y.-m. Shi, Z.-f. Cui, H.-t. Feng, &nbsp;and H.-s. Zong,</div>
<div><span class="a">Phys. Rev. D <strong>90</strong>, 036007 (2014)</span>; H.-t. Feng, J.-F. Li, Y.-</div>
<div>m. Shi, &nbsp;and H.-s. Zong, <span class="a">Phys. Rev. D <strong>90</strong>, 065005 (2014)</span>;</div>
<div>H.-t. Feng, B. Wang, W.-m. Sun, &nbsp;and H.-s. Zong, <span class="a">Phys.</span></div>
<div class="e a">Rev. D <strong>86</strong>, 105042 (2012).</div>
<div><b>[11]</b>T. Appelquist, D. Nash, &nbsp;and L. C. R. Wijewardhana,</div>
<div class="e a">Phys. Rev. Lett. <strong>60</strong>, 2575 (1988).</div>
</div>
<div class="rf" style="left:480px;top:705px">
<div><b>[12]</b>C. J. Burden, J. Praschifka, &nbsp;and C. D. Roberts, <span class="a">Phys.</span></div>
<div class="e a">Rev. D <strong>46</strong>, 2695 (1992).</div>
<div class="e"><b>[13]</b>P. Maris, <span class="a">Phys. Rev. D <strong>52</strong>, 6087 (1995)</span>.</div>
<div><b>[14]</b>V. P. GUSYNIN, S. G. SHARAPOV, &nbsp;and J. P. CAR-</div>
<div class="e">BOTTE, <span class="a">Int. J. Mod. Phys. B <strong>21</strong>, 4611 (2007)</span>.</div>
<div><b>[15]</b>K. Novoselov, A. K. Geim, S. Morozov, D. Jiang, M. Kat-</div>
<div>snelson, I. Grigorieva, S. Dubonos, &nbsp;and A. Firsov, <span class="a">Nature</span></div>
<div><span class="a"><strong>438</strong>, 197 (2005)</span>; &nbsp;Y. Zhang, Y.-W. Tan, H. L. Stormer,</div>
<div class="e">and P. Kim, <span class="a">Nature <strong>438</strong>, 201 (2005)</span>.</div>
<div class="e"><b>[16]</b>S. Coleman, <span class="a">Comm. Math. Phys. <strong>31</strong>, 259 (1973)</span>.</div>
<div><b>[17]</b>N. D. Mermin and H. Wagner, <span class="a">Phys. Rev. Lett. <strong>17</strong>, 1133</span></div>
<div class="e a">(1966).</div>
<div><b>[18]</b>C. D. Roberts and A. G. Williams, <span class="a">Prog. Part. Nucl.</span></div>
<div class="e a">Phys. <strong>33</strong>, 477 &nbsp;(1994).</div>
<div><b>[19]</b>P. Maris and C. D. Roberts, <span class="a">Int. J. Mod. Phys. E <strong>12</strong>, 297</span></div>
<div class="e a">(2003).</div>
<div><b>[20]</b>P. M. Lo and E. S. Swanson, <span class="a">Phys. Lett. B <strong>697</strong>, 164</span></div>
<div class="e a">(2011).</div>
<div><b>[21]</b>I. Aitchison, N. Dorey, M. Klein-Kreisler, &nbsp;and N. Mavro-</div>
<div class="e">matos, <span class="a">Phys. Lett. B <strong>294</strong>, 91 &nbsp;(1992)</span>.</div>
<div><b>[22]</b>M. HE, H.-T. FENG, W.-M. SUN, &nbsp;and H.-S. ZONG,</div>
<div class="e"><span class="a">Mod. Phys. Lett. A <strong>22</strong>, 449 (2007)</span>.</div>
<div><b>[23]</b>H. Feng, S. Shi, P. Yin, &nbsp;and H. Zong, <span class="a">Phys. Rev. D <strong>86</strong></span>,</div>
<div class="e a">065002 (2012).</div>
</div>
</div>

</body></html>
